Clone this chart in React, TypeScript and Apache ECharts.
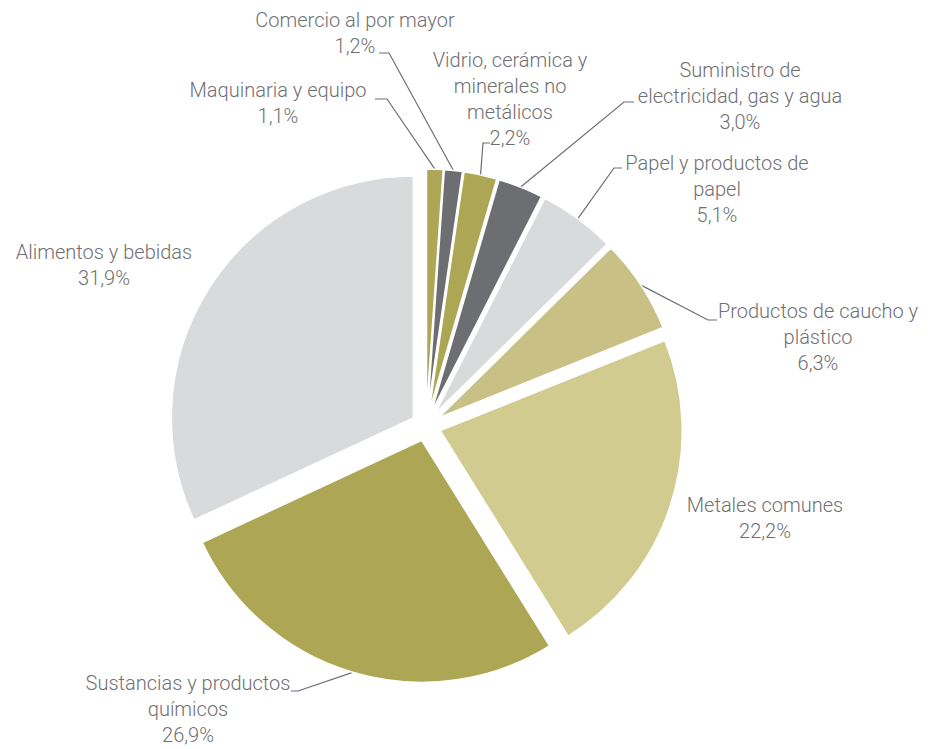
import React, { useEffect, useRef } from "react";
import * as echarts from "echarts";

// ---- data ----
const categories = [
  "Maquinaria y equipo",
  "Comercio al por mayor",
  "Vidrio, cerámica y\nminerales no\nmetálicos",
  "Suministro de\nelectricidad, gas y agua",
  "Papel y productos de\npapel",
  "Productos de caucho y\nplástico",
  "Metales comunes",
  "Sustancias y productos\nquímicos",
  "Alimentos y bebidas",
];
const shares = [1.1, 1.2, 2.2, 3.0, 5.1, 6.3, 22.2, 26.9, 31.9];

// ---- styling / layout ----
const colors = ["#ADA654", "#6D6E72", "#ADA654", "#6D6E72", "#D9DADC", "#C8C085", "#D2CB90", "#ADA654", "#D9DADC"];
const CENTER = [426, 426];
const RADIUS = 242;
const OFFSET = 15;
const TEXT_COLOR = "#6F7073";

// label anchor (block centre) and label-line elbow/end, per slice
const labelPos: [number, number][] = [
  [278, 103],
  [355, 33],
  [510, 99],
  [740, 96],
  [717, 189],
  [818, 337],
  [765, 518],
  [188, 709],
  [104, 265],
];
const lineEnds: ([number, number][] | null)[] = [
  [[387, 99], [375, 99]],
  [[389, 53], [379, 53]],
  [[483, 143], [490, 143]],
  [[624, 102], [634, 102]],
  [[614, 168], [622, 168]],
  [[708, 320], [717, 320]],
  null,
  [[298, 691], [291, 691]],
  null,
];

const fmt = (v: number) => v.toFixed(1).replace(".", ",") + "%";

export default function App() {
  const ref = useRef<HTMLDivElement>(null);
  useEffect(() => {
    if (!ref.current) return;
    const chart = echarts.init(ref.current, undefined, { renderer: "svg" });
    const option: any = {
      animation: false,
      backgroundColor: "#ffffff",
      series: [
        {
          type: "pie",
          center: CENTER,
          radius: RADIUS,
          startAngle: 90,
          clockwise: true,
          selectedMode: "multiple",
          selectedOffset: OFFSET,
          avoidLabelOverlap: false,
          silent: true,
          label: { show: false },
          labelLine: { show: false },
          itemStyle: { borderColor: "#ffffff", borderWidth: 1.5 },
          emphasis: { disabled: true },
          data: categories.map((name, i) => ({
            name,
            value: shares[i],
            selected: true,
            itemStyle: { color: colors[i] },
            select: { itemStyle: { color: colors[i], borderColor: "#ffffff", borderWidth: 1.5 } },
          })),
        },
        {
          type: "pie",
          center: CENTER,
          radius: RADIUS + OFFSET,
          startAngle: 90,
          clockwise: true,
          silent: true,
          avoidLabelOverlap: false,
          emphasis: { disabled: true },
          itemStyle: { color: "rgba(0,0,0,0)", borderWidth: 0 },
          label: {
            show: true,
            position: "outside",
            fontFamily: "Roboto",
            fontWeight: 300,
            fontSize: 20,
            lineHeight: 26,
            color: TEXT_COLOR,
            align: "center",
            formatter: (p: any) => `${p.name}\n${fmt(p.value)}`,
          },
          labelLine: {
            show: true,
            length: 10,
            length2: 10,
            lineStyle: { color: "#6D6E72", width: 1.2 },
          },
          labelLayout: (p: any) => {
            const i = p.dataIndex;
            const [x, y] = labelPos[i];
            const res: any = { x, y, align: "center", verticalAlign: "middle" };
            const le = lineEnds[i];
            if (le && p.labelLinePoints) {
              res.labelLinePoints = [p.labelLinePoints[0], le[0], le[1]];
            }
            return res;
          },
          data: categories.map((name, i) => ({
            name,
            value: shares[i],
            labelLine: { show: lineEnds[i] != null },
          })),
        },
      ],
    };
    chart.setOption(option);
    return () => chart.dispose();
  }, []);
  return (
    <div
      ref={ref}
      style={{ position: "fixed", left: 0, top: 0, width: 931, height: 749, background: "#fff" }}
    />
  );
}
